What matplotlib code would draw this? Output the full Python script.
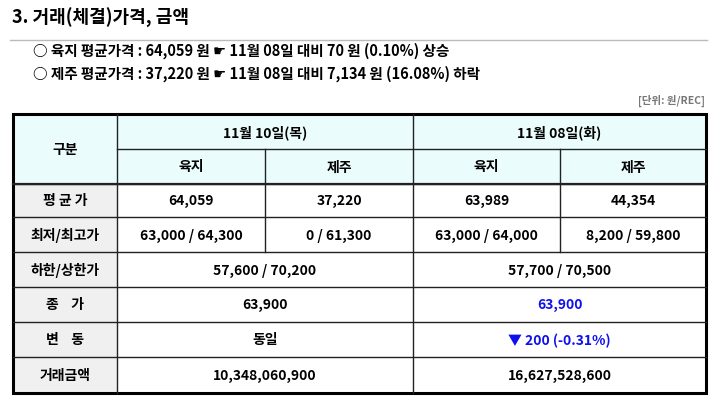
import matplotlib.pyplot as plt
import matplotlib.patches as mpatches

plt.rcParams['font.family'] = ['Noto Sans CJK JP', 'Noto Sans CJK KR', 'DejaVu Sans']

title = "3. 거래(체결)가격, 금액"
bullets = ["○ 육지 평균가격 : 64,059 원 ☛ 11월 08일 대비 70 원 (0.10%) 상승",
           "○ 제주 평균가격 : 37,220 원 ☛ 11월 08일 대비 7,134 원 (16.08%) 하락"]
unit = "[단위: 원/REC]"
dates = ["11월 10일(목)", "11월 08일(화)"]
regions = ["육지", "제주", "육지", "제주"]
row_labels = ["평 균 가", "최저/최고가", "하한/상한가", "종    가", "변    동", "거래금액"]
avg_price = ["64,059", "37,220", "63,989", "44,354"]
min_max = ["63,000 / 64,300", "0 / 61,300", "63,000 / 64,000", "8,200 / 59,800"]
limits = ["57,600 / 70,200", "57,700 / 70,500"]
close_price = ["63,900", "63,900"]
change = ["동일", "▼ 200 (-0.31%)"]
amount = ["10,348,060,900", "16,627,528,600"]

xs = [13, 117, 265, 413, 560, 706]
ys = [115, 150, 185, 218, 253, 288, 323, 358, 394]

fig = plt.figure(figsize=(7.17, 4.06), dpi=100)
ax = fig.add_axes([0, 0, 1, 1])
ax.set_xlim(0, 717)
ax.set_ylim(406, 0)
ax.axis('off')

ax.text(12, 18, title, fontsize=13, fontweight='bold', va='center', ha='left')
ax.plot([10, 707], [41, 41], color='#BBBBBB', lw=1)
ax.text(33, 51, bullets[0], fontsize=10.5, fontweight='bold', va='center')
ax.text(33, 74, bullets[1], fontsize=10.5, fontweight='bold', va='center')
ax.text(705, 101, unit, fontsize=7.5, fontweight='bold', color='#777777', va='center', ha='right')

# fills
ax.add_patch(mpatches.Rectangle((xs[0], ys[0]), xs[-1] - xs[0], ys[2] - ys[0], facecolor='#EAFCFC', edgecolor='none'))
ax.add_patch(mpatches.Rectangle((xs[0], ys[2]), xs[1] - xs[0], ys[-1] - ys[2], facecolor='#F0F0F0', edgecolor='none'))

def cell(x0, x1, y0, y1, s, color='black'):
    ax.text((x0 + x1) / 2, (y0 + y1) / 2, s, fontsize=10, fontweight='bold', color=color, ha='center', va='center')

cell(xs[0], xs[1], ys[0], ys[2], "구분")
cell(xs[1], xs[3], ys[0], ys[1], dates[0])
cell(xs[3], xs[5], ys[0], ys[1], dates[1])
for i, r in enumerate(regions):
    cell(xs[i + 1], xs[i + 2], ys[1], ys[2], r)
for i, lab in enumerate(row_labels):
    cell(xs[0], xs[1], ys[i + 2], ys[i + 3], lab)
for i in range(4):
    cell(xs[i + 1], xs[i + 2], ys[2], ys[3], avg_price[i])
    cell(xs[i + 1], xs[i + 2], ys[3], ys[4], min_max[i])
merged = [limits, close_price, change, amount]
colors = [['black', 'black'], ['black', '#1010EE'], ['black', '#1010EE'], ['black', 'black']]
for r, vals in enumerate(merged):
    y0, y1 = ys[r + 4], ys[r + 5]
    cell(xs[1], xs[3], y0, y1, vals[0], colors[r][0])
    cell(xs[3], xs[5], y0, y1, vals[1], colors[r][1])

# grid lines
lc = '#222222'
for y in ys[2:-1]:
    ax.plot([xs[0], xs[-1]], [y, y], color=lc, lw=1)
ax.plot([xs[1], xs[-1]], [ys[1], ys[1]], color=lc, lw=1)
ax.plot([xs[1], xs[1]], [ys[0], ys[-1]], color=lc, lw=1)
ax.plot([xs[3], xs[3]], [ys[0], ys[-1]], color=lc, lw=1)
for x in (xs[2], xs[4]):
    ax.plot([x, x], [ys[1], ys[4]], color=lc, lw=1)
ax.plot([xs[0], xs[-1]], [ys[2], ys[2]], color=lc, lw=1.6)
ax.add_patch(mpatches.Rectangle((xs[0], ys[0]), xs[-1] - xs[0], ys[-1] - ys[0], fill=False, edgecolor='black', lw=2.2))

fig.savefig('out.png', dpi=100)
